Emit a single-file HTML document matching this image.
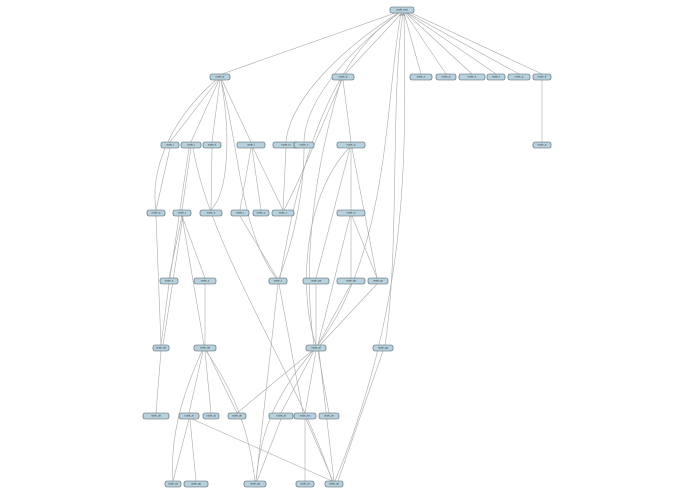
<!DOCTYPE html>
<html><head><meta charset="utf-8"><style>
html,body{margin:0;padding:0;background:#fff;}
svg{display:block;}
text{font-family:"Liberation Sans",sans-serif;font-size:2.6px;fill:#333;text-anchor:middle;dominant-baseline:middle;}
.n{fill:#b7d2de;stroke:#4a5a62;stroke-width:0.6;}
path{fill:none;stroke:#aaa;stroke-width:0.6;}
</style></head><body>
<svg width="695" height="494" viewBox="0 0 695 494" xmlns="http://www.w3.org/2000/svg">
<g id="edges">
<!-- root edges -->
<path d="M398 12 L222 74"/>
<path d="M402 13 L345 74"/>
<path d="M404 13 L421 74"/>
<path d="M405 13 L446 74"/>
<path d="M406 13 L472 74"/>
<path d="M407 13 L496 74"/>
<path d="M408 13 L519 74"/>
<path d="M409 12 L542 74"/>
<path d="M398 13 C340 50 290 100 286 142"/>
<path d="M399 13 C350 50 305 100 304 142"/>
<path d="M399 13 C330 60 300 160 280 278"/>
<path d="M401 13 C385 100 390 250 318 345"/>
<path d="M403 13 C390 100 400 250 385 345"/>
<path d="M404 13 C406 150 410 300 335 481"/>
<!-- A -->
<path d="M218 80 L170 142"/>
<path d="M219 80 L191 142"/>
<path d="M220 80 L212 142"/>
<path d="M222 80 L251 142"/>
<path d="M221 80 C240 150 240 230 276 278"/>
<path d="M216 80 C170 120 150 170 156 210"/>
<path d="M221 80 C230 130 230 190 211 210"/>
<!-- B -->
<path d="M343 80 L351 142"/>
<path d="M342 80 C320 130 300 180 284 210"/>
<path d="M341 80 C320 150 300 250 314 345"/>
<path d="M542 80 L542 142"/>
<!-- row 145 -->
<path d="M170 148 L156 210"/>
<path d="M191 148 L182 210"/>
<path d="M189 148 L170 278"/>
<path d="M193 148 C210 250 300 380 332 481"/>
<path d="M212 148 L211 210"/>
<path d="M251 148 L240 210"/>
<path d="M252 148 L261 210"/>
<path d="M253 148 L283 210"/>
<path d="M286 148 L283 210"/>
<path d="M304 148 C304 200 290 250 279 278"/>
<path d="M351 148 L351 210"/>
<path d="M350 148 L316 278"/>
<path d="M352 148 L377 278"/>
<path d="M349 148 C300 200 300 300 316 345"/>
<!-- row 213 -->
<path d="M156 216 L161 345"/>
<path d="M182 216 L169 278"/>
<path d="M182 216 L205 278"/>
<path d="M182 216 L204 345"/>
<path d="M183 216 L163 345"/>
<path d="M240 216 L277 278"/>
<path d="M351 216 L351 278"/>
<path d="M352 216 L377 278"/>
<path d="M350 216 L318 345"/>
<!-- row 281 -->
<path d="M169 284 L161 345"/>
<path d="M205 284 L205 345"/>
<path d="M278 284 L256 481"/>
<path d="M279 284 L303 413"/>
<path d="M316 284 L316 345"/>
<path d="M351 284 L318 345"/>
<path d="M377 284 L320 345"/>
<!-- row 348 -->
<path d="M161 351 L156 413"/>
<path d="M203 351 L189 413"/>
<path d="M205 351 L211 413"/>
<path d="M207 351 L237 413"/>
<path d="M202 351 C180 400 170 440 173 481"/>
<path d="M206 351 C240 400 250 440 255 481"/>
<path d="M312 351 L237 413"/>
<path d="M314 351 L281 413"/>
<path d="M316 351 L305 413"/>
<path d="M318 351 L329 413"/>
<path d="M313 351 C270 400 260 440 256 481"/>
<path d="M319 351 L334 481"/>
<path d="M383 351 L338 481"/>
<!-- row 416 -->
<path d="M189 419 L173 481"/>
<path d="M190 419 L196 481"/>
<path d="M192 419 L332 481"/>
<path d="M281 419 L257 481"/>
<path d="M305 419 L305 481"/>
<path d="M306 419 L333 481"/>
</g>
<g id="nodes">
<rect class="n" x="390" y="7" width="24" height="6" rx="2"/><text x="402" y="10">node_root</text>
<text x="402" y="15" style="font-size:2px">subtitle</text>
<rect class="n" x="210" y="74" width="20" height="6" rx="2"/><text x="220" y="77">node_a</text>
<rect class="n" x="332" y="74" width="22" height="6" rx="2"/><text x="343" y="77">node_b</text>
<rect class="n" x="410" y="74" width="22" height="6" rx="2"/><text x="421" y="77">node_c</text>
<rect class="n" x="436" y="74" width="20" height="6" rx="2"/><text x="446" y="77">node_d</text>
<rect class="n" x="459" y="74" width="26" height="6" rx="2"/><text x="472" y="77">node_e</text>
<rect class="n" x="487" y="74" width="18" height="6" rx="2"/><text x="496" y="77">node_f</text>
<rect class="n" x="508" y="74" width="22" height="6" rx="2"/><text x="519" y="77">node_g</text>
<rect class="n" x="533" y="74" width="18" height="6" rx="2"/><text x="542" y="77">node_h</text>

<rect class="n" x="161" y="142" width="18" height="6" rx="2"/><text x="170" y="145">node_i</text>
<rect class="n" x="181" y="142" width="20" height="6" rx="2"/><text x="191" y="145">node_j</text>
<rect class="n" x="203" y="142" width="18" height="6" rx="2"/><text x="212" y="145">node_k</text>
<rect class="n" x="237" y="142" width="28" height="6" rx="2"/><text x="251" y="145">node_l</text>
<rect class="n" x="273" y="142" width="26" height="6" rx="2"/><text x="286" y="145">node_m</text>
<rect class="n" x="294" y="142" width="20" height="6" rx="2"/><text x="304" y="145">node_n</text>
<rect class="n" x="337" y="142" width="28" height="6" rx="2"/><text x="351" y="145">node_o</text>
<rect class="n" x="533" y="142" width="18" height="6" rx="2"/><text x="542" y="145">node_p</text>

<rect class="n" x="147" y="210" width="18" height="6" rx="2"/><text x="156" y="213">node_q</text>
<rect class="n" x="173" y="210" width="18" height="6" rx="2"/><text x="182" y="213">node_r</text>
<rect class="n" x="200" y="210" width="22" height="6" rx="2"/><text x="211" y="213">node_s</text>
<rect class="n" x="231" y="210" width="18" height="6" rx="2"/><text x="240" y="213">node_t</text>
<rect class="n" x="253" y="210" width="16" height="6" rx="2"/><text x="261" y="213">node_u</text>
<rect class="n" x="272" y="210" width="22" height="6" rx="2"/><text x="283" y="213">node_v</text>
<rect class="n" x="337" y="210" width="28" height="6" rx="2"/><text x="351" y="213">node_w</text>

<rect class="n" x="160" y="278" width="18" height="6" rx="2"/><text x="169" y="281">node_x</text>
<rect class="n" x="194" y="278" width="22" height="6" rx="2"/><text x="205" y="281">node_y</text>
<rect class="n" x="269" y="278" width="18" height="6" rx="2"/><text x="278" y="281">node_z</text>
<rect class="n" x="303" y="278" width="26" height="6" rx="2"/><text x="316" y="281">node_aa</text>
<rect class="n" x="337" y="278" width="28" height="6" rx="2"/><text x="351" y="281">node_ab</text>
<rect class="n" x="368" y="278" width="20" height="6" rx="2"/><text x="378" y="281">node_ac</text>

<rect class="n" x="153" y="345" width="16" height="6" rx="2"/><text x="161" y="348">node_ad</text>
<rect class="n" x="194" y="345" width="22" height="6" rx="2"/><text x="205" y="348">node_ae</text>
<rect class="n" x="306" y="345" width="20" height="6" rx="2"/><text x="316" y="348">node_af</text>
<rect class="n" x="373" y="345" width="20" height="6" rx="2"/><text x="383" y="348">node_ag</text>

<rect class="n" x="143" y="413" width="26" height="6" rx="2"/><text x="156" y="416">node_ah</text>
<rect class="n" x="179" y="413" width="20" height="6" rx="2"/><text x="189" y="416">node_ai</text>
<rect class="n" x="203" y="413" width="16" height="6" rx="2"/><text x="211" y="416">node_aj</text>
<rect class="n" x="228" y="413" width="18" height="6" rx="2"/><text x="237" y="416">node_ak</text>
<rect class="n" x="269" y="413" width="24" height="6" rx="2"/><text x="281" y="416">node_al</text>
<rect class="n" x="294" y="413" width="22" height="6" rx="2"/><text x="305" y="416">node_am</text>
<rect class="n" x="319" y="413" width="20" height="6" rx="2"/><text x="329" y="416">node_an</text>

<rect class="n" x="165" y="481" width="16" height="6" rx="2"/><text x="173" y="484">node_ao</text>
<rect class="n" x="184" y="481" width="24" height="6" rx="2"/><text x="196" y="484">node_ap</text>
<rect class="n" x="244" y="481" width="22" height="6" rx="2"/><text x="255" y="484">node_aq</text>
<rect class="n" x="296" y="481" width="18" height="6" rx="2"/><text x="305" y="484">node_ar</text>
<rect class="n" x="325" y="481" width="18" height="6" rx="2"/><text x="334" y="484">node_as</text>
</g>
</svg>
</body></html>
